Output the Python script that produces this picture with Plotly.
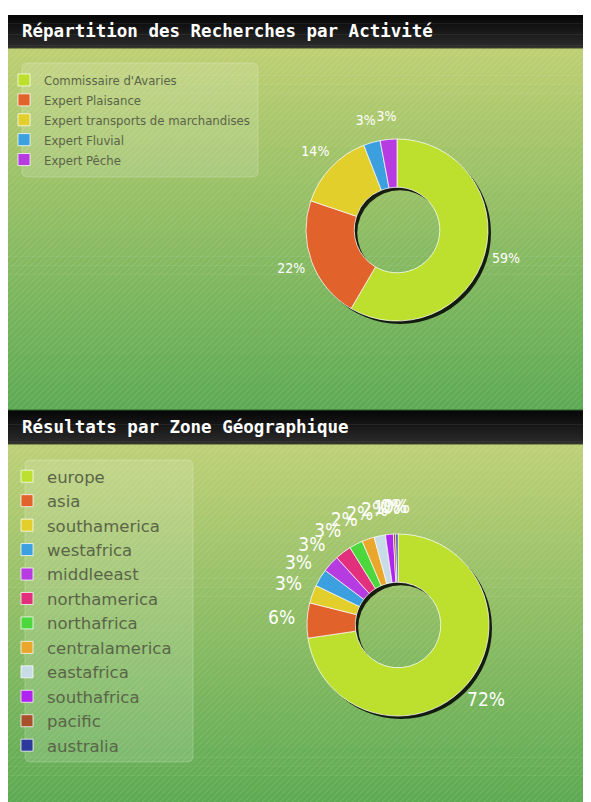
import plotly.graph_objects as go

# page offset of the plot div (browser body margin)
OFF = 8
W, H = 583, 794

# ---------------- data ----------------
act_labels = ["Commissaire d'Avaries", "Expert Plaisance", "Expert transports de marchandises",
              "Expert Fluvial", "Expert Pêche"]
act_values = [59, 22, 14, 3, 3]
act_colors = ["#bddf2e", "#e2622b", "#e3cf2c", "#3b9fe0", "#b63ce2"]

zone_labels = ["europe", "asia", "southamerica", "westafrica", "middleeast", "northamerica",
               "northafrica", "centralamerica", "eastafrica", "southafrica", "pacific", "australia"]
zone_values = [72.4, 6.2, 3.2, 3.1, 3.0, 2.9, 2.4, 2.2, 2.0, 1.4, 0.4, 0.4]
zone_colors = ["#bddf2e", "#e2622b", "#e3cf2c", "#3b9fe0", "#b63ce2", "#e2307c",
               "#4cd83c", "#e9a82c", "#c8dce8", "#b024f0", "#a8502c", "#2c3a9c"]

title1 = "Répartition des Recherches par Activité"
title2 = "Résultats par Zone Géographique"

FONT_COND = "DejaVu Sans Condensed, Liberation Sans Narrow, sans-serif"
FONT_LEG2 = "DejaVu Sans, sans-serif"
FONT_MONO = "DejaVu Sans Mono, Liberation Mono, monospace"


def px(x):
    return (x - OFF) / W


def py(y):
    return 1 - (y - OFF) / H


def lerp(c0, c1, t):
    return "rgb(%d,%d,%d)" % tuple(round(a + (b - a) * t) for a, b in zip(c0, c1))


shapes = []


def gradient_rect(x0, y0, x1, y1, c0, c1, n=40):
    step = (y1 - y0) / n
    for i in range(n):
        ya = y0 + i * step
        yb = y0 + (i + 1) * step + 0.6
        shapes.append(dict(type="rect", xref="paper", yref="paper", layer="below",
                           x0=px(x0), x1=px(x1), y0=py(min(yb, y1)), y1=py(ya),
                           fillcolor=lerp(c0, c1, (i + 0.5) / n), line=dict(width=0)))


def stripes(x0, y0, x1, y1, gap=6):
    parts = []
    c = x0 + y0
    while c < x1 + y1:
        xa = max(x0, c - y1)
        xb = min(x1, c - y0)
        if xb > xa:
            parts.append("M%.5f,%.5f L%.5f,%.5f" % (px(xa), py(c - xa), px(xb), py(c - xb)))
        c += gap
    shapes.append(dict(type="path", xref="paper", yref="paper", layer="below",
                       path=" ".join(parts), line=dict(color="rgba(255,255,255,0.10)", width=1.2)))


def rounded_box(x0, y0, x1, y1, r=6):
    p = ("M%f,%f L%f,%f Q%f,%f %f,%f L%f,%f Q%f,%f %f,%f L%f,%f Q%f,%f %f,%f L%f,%f Q%f,%f %f,%f Z" % (
        px(x0 + r), py(y0), px(x1 - r), py(y0), px(x1), py(y0), px(x1), py(y0 + r),
        px(x1), py(y1 - r), px(x1), py(y1), px(x1 - r), py(y1),
        px(x0 + r), py(y1), px(x0), py(y1), px(x0), py(y1 - r),
        px(x0), py(y0 + r), px(x0), py(y0), px(x0 + r), py(y0)))
    shapes.append(dict(type="path", xref="paper", yref="paper", layer="below", path=p,
                       fillcolor="rgba(255,255,255,0.14)",
                       line=dict(color="rgba(255,255,255,0.22)", width=1)))


RIGHT = OFF + W
BOTTOM = OFF + H
# panel 1
gradient_rect(8, 15, RIGHT, 48, (6, 6, 6), (44, 44, 44), n=12)
gradient_rect(8, 48, RIGHT, 410, (190, 207, 114), (93, 170, 84))
stripes(8, 48, RIGHT, 410)
# panel 2
gradient_rect(8, 410, RIGHT, 444, (6, 6, 6), (44, 44, 44), n=12)
gradient_rect(8, 444, RIGHT, BOTTOM, (190, 208, 118), (92, 170, 82))
stripes(8, 444, RIGHT, BOTTOM)
for yy in (48, 444):
    shapes.append(dict(type="line", xref="paper", yref="paper", layer="below",
                       x0=px(8), x1=1, y0=py(yy), y1=py(yy), line=dict(color="#3f4a2a", width=1)))
shapes.append(dict(type="line", xref="paper", yref="paper", layer="below",
                   x0=px(8), x1=1, y0=py(410), y1=py(410), line=dict(color="#2f5f2a", width=1)))

rounded_box(22, 63, 258, 177)
rounded_box(25, 460, 193, 762)


def dom(cx, cy, r, dx=0, dy=0):
    return dict(x=[px(cx - r + dx), px(cx + r + dx)], y=[py(cy + r + dy), py(cy - r + dy)])


def mid_angles(values):
    tot = float(sum(values))
    out, cum = [], 0.0
    for v in values:
        out.append((cum + v / 2.0) / tot * 360.0)
        cum += v
    return out


HOLE = 0.47
C1, C2, R = (397, 230), (398, 625), 91
RMAX = 1.5  # radial extent of the label scale (1 == outer edge of the ring)

fig = go.Figure()

# drop shadows
for c in (C1, C2):
    fig.add_trace(go.Pie(values=[1], labels=["shadow"], domain=dom(c[0], c[1], R, 3, 3), hole=HOLE,
                         marker=dict(colors=["rgba(0,0,0,0.85)"], line=dict(width=0)),
                         textinfo="none", hoverinfo="skip", showlegend=False, sort=False))

fig.add_trace(go.Pie(
    labels=act_labels, values=act_values, domain=dom(C1[0], C1[1], R), hole=HOLE,
    sort=False, direction="clockwise", rotation=0,
    marker=dict(colors=act_colors, line=dict(color="rgba(255,255,255,0.75)", width=1)),
    textinfo="none", legend="legend", showlegend=True,
))

fig.add_trace(go.Pie(
    labels=zone_labels, values=zone_values, domain=dom(C2[0], C2[1], R), hole=HOLE,
    sort=False, direction="clockwise", rotation=0,
    marker=dict(colors=zone_colors, line=dict(color="rgba(255,255,255,0.75)", width=1)),
    textinfo="none", legend="legend2", showlegend=True,
))

# percentage labels placed around each ring on a polar scale centred on the pie
fig.add_trace(go.Scatterpolar(
    r=[1.24] * len(act_values), theta=mid_angles(act_values),
    text=["%d%%" % round(v) for v in act_values], mode="text",
    textfont=dict(color="white", size=14, family=FONT_COND),
    subplot="polar", showlegend=False, hoverinfo="skip", cliponaxis=False))

fig.add_trace(go.Scatterpolar(
    r=[1.28] * len(zone_values), theta=mid_angles(zone_values),
    text=["%d%%" % round(v) for v in zone_values], mode="text",
    textfont=dict(color="white", size=19, family=FONT_COND),
    subplot="polar2", showlegend=False, hoverinfo="skip", cliponaxis=False))

polar_common = dict(
    bgcolor="rgba(0,0,0,0)",
    radialaxis=dict(range=[0, RMAX], visible=False, showgrid=False),
    angularaxis=dict(direction="clockwise", rotation=90, visible=False, showgrid=False),
)

annotations = [
    dict(text="<b>%s</b>" % title1, x=px(20), y=py(31), xref="paper", yref="paper",
         xanchor="left", yanchor="middle", showarrow=False,
         font=dict(family=FONT_MONO, size=17.5, color="white")),
    dict(text="<b>%s</b>" % title2, x=px(20), y=py(427), xref="paper", yref="paper",
         xanchor="left", yanchor="middle", showarrow=False,
         font=dict(family=FONT_MONO, size=17.5, color="white")),
]

fig.update_layout(
    width=W, height=H, margin=dict(l=0, r=0, t=0, b=0, autoexpand=False),
    paper_bgcolor="white", plot_bgcolor="white",
    shapes=shapes, annotations=annotations,
    polar=dict(domain=dom(C1[0], C1[1], R * RMAX), **polar_common),
    polar2=dict(domain=dom(C2[0], C2[1], R * RMAX), **polar_common),
    legend=dict(x=px(4), y=py(65), xanchor="left", yanchor="top", bgcolor="rgba(0,0,0,0)",
                font=dict(size=13, color="#5a6548", family=FONT_COND), itemclick=False,
                itemdoubleclick=False, tracegroupgap=0),
    legend2=dict(x=px(7), y=py(459), xanchor="left", yanchor="top", bgcolor="rgba(0,0,0,0)",
                 font=dict(size=16.5, color="#5a6548", family=FONT_LEG2), itemclick=False,
                 itemdoubleclick=False, tracegroupgap=0),
)

fig.write_html("out.html")
